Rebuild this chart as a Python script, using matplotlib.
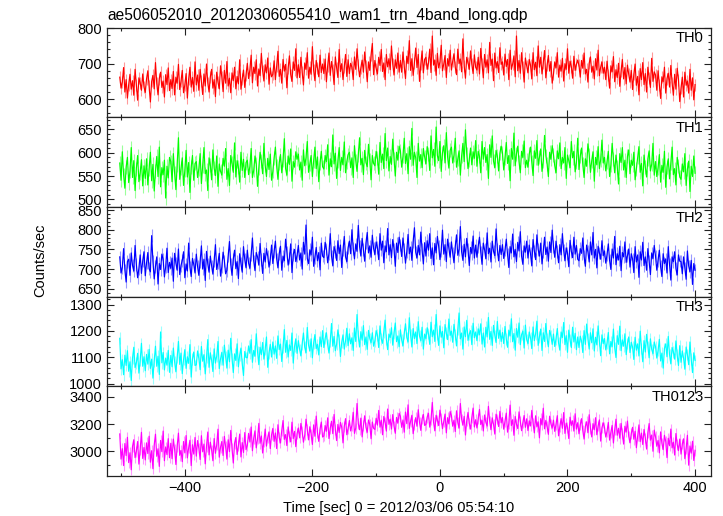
import matplotlib
matplotlib.use("Agg")
from matplotlib import pyplot as plt
from matplotlib.ticker import MultipleLocator
import numpy as np

plt.rcParams['font.family'] = ['Liberation Sans', 'DejaVu Sans']

# 2 s bins starting at t = -502 s
T_START = -502
BIN = 2

TH0 = [662, 631, 648, 689, 620, 655, 603, 641, 670, 628, 652, 611, 684, 639, 597, 660, 646, 625, 671, 634,
       619, 657, 680, 636, 592, 650, 667, 629, 703, 644, 612, 658, 676, 633, 651, 606, 669, 641, 688, 624,
       655, 630, 678, 612, 662, 645, 698, 627, 650, 681, 618, 640, 672, 603, 656, 690, 634, 661, 622, 705,
       640, 668, 625, 684, 650, 613, 671, 637, 699, 646, 620, 663, 684, 631, 655, 607, 676, 648, 629, 694,
       662, 621, 681, 645, 706, 637, 659, 618, 674, 652, 690, 629, 664, 643, 711, 628, 657, 682, 633, 669,
       701, 658, 683, 724, 646, 690, 672, 711, 637, 685, 666, 729, 680, 651, 697, 674, 716, 642, 688, 663,
       670, 708, 655, 693, 735, 664, 684, 645, 712, 679, 698, 632, 687, 722, 669, 650, 705, 681, 742, 660,
       697, 661, 718, 676, 640, 702, 684, 731, 659, 690, 670, 748, 681, 652, 709, 688, 663, 724, 675, 699,
       672, 713, 649, 694, 730, 667, 706, 682, 641, 719, 688, 661, 740, 678, 700, 655, 691, 726, 664, 711,
       672, 701, 690, 655, 719, 684, 742, 697, 663, 688, 710, 676, 733, 693, 649, 705, 681, 724, 757, 669,
       709, 686, 671, 718, 695, 740, 678, 702, 655, 726, 691, 714, 683, 750, 699, 668, 711, 687, 730, 676,
       709, 676, 733, 692, 658, 721, 700, 765, 681, 714, 667, 703, 744, 689, 726, 650, 698, 736, 674, 712,
       718, 684, 702, 741, 675, 778, 696, 710, 667, 729, 688, 705, 752, 680, 699, 723, 661, 714, 693, 738,
       682, 707, 728, 690, 669, 741, 700, 713, 677, 770, 694, 659, 718, 703, 684, 736, 698, 672, 725, 690,
       682, 718, 671, 743, 699, 660, 726, 690, 711, 674, 760, 695, 713, 652, 730, 688, 706, 675, 745, 698,
       705, 668, 727, 692, 712, 655, 738, 684, 699, 722, 663, 778, 680, 709, 673, 731, 690, 648, 716, 694,
       674, 712, 696, 657, 731, 683, 704, 666, 750, 690, 718, 671, 702, 737, 660, 695, 723, 679, 706, 645,
       670, 705, 688, 731, 662, 696, 679, 715, 651, 700, 684, 742, 673, 707, 692, 659, 721, 681, 698, 710,
       695, 662, 709, 687, 730, 671, 684, 648, 701, 719, 676, 693, 657, 714, 682, 738, 666, 690, 705, 673,
       690, 655, 707, 668, 631, 694, 677, 720, 649, 683, 661, 701, 636, 678, 712, 657, 689, 643, 696, 670,
       648, 681, 627, 670, 699, 639, 664, 612, 686, 655, 703, 641, 672, 620, 690, 659, 633, 715, 650, 677,
       668, 625, 680, 641, 602, 663, 649, 690, 617, 658, 673, 634, 695, 646, 611, 670, 628, 687, 655, 593,
       631, 662, 606, 676, 639, 651, 617, 684, 625, 660, 598, 641]

TH1 = [578, 541, 602, 553, 524, 569, 590, 536, 561, 611, 547, 583, 519, 566, 594, 538, 557, 585, 529, 572,
       545, 587, 531, 566, 601, 540, 575, 518, 560, 592, 549, 612, 527, 568, 553, 584, 503, 571, 546, 590,
       581, 538, 598, 556, 521, 574, 632, 543, 567, 589, 530, 562, 605, 548, 579, 515, 569, 594, 541, 577,
       581, 547, 566, 598, 534, 572, 611, 555, 563, 519, 589, 574, 542, 606, 567, 551, 593, 528, 576, 560,
       552, 588, 571, 609, 543, 566, 530, 594, 577, 558, 621, 548, 583, 569, 537, 601, 562, 586, 547, 579,
       584, 553, 571, 609, 547, 562, 593, 576, 528, 567, 601, 582, 555, 620, 573, 549, 588, 564, 597, 541,
       560, 589, 612, 571, 543, 578, 596, 557, 584, 630, 566, 552, 593, 575, 608, 539, 581, 569, 602, 586,
       597, 563, 580, 541, 606, 572, 589, 624, 558, 576, 594, 549, 583, 612, 566, 591, 538, 578, 603, 570,
       565, 594, 581, 617, 552, 587, 570, 638, 576, 599, 545, 583, 611, 562, 590, 574, 623, 557, 581, 596,
       601, 568, 589, 547, 615, 583, 560, 596, 632, 574, 588, 553, 605, 579, 570, 618, 585, 542, 594, 577,
       572, 603, 588, 554, 622, 579, 597, 566, 641, 583, 610, 561, 592, 575, 629, 587, 550, 601, 584, 614,
       604, 569, 592, 631, 577, 598, 555, 613, 586, 652, 573, 601, 589, 547, 620, 582, 596, 568, 609, 591,
       576, 613, 598, 562, 636, 589, 607, 571, 655, 594, 583, 624, 560, 600, 615, 578, 643, 591, 567, 605,
       612, 578, 595, 631, 569, 587, 604, 552, 593, 620, 581, 649, 598, 566, 585, 610, 574, 602, 588, 626,
       571, 603, 592, 557, 624, 586, 611, 579, 596, 545, 617, 590, 636, 582, 568, 605, 593, 561, 599, 614,
       600, 563, 589, 622, 577, 594, 540, 609, 586, 642, 572, 598, 614, 581, 557, 603, 590, 625, 568, 584,
       569, 597, 612, 580, 551, 604, 588, 626, 573, 591, 608, 560, 583, 637, 594, 576, 549, 601, 586, 615,
       596, 572, 557, 604, 587, 621, 566, 590, 578, 611, 545, 595, 583, 568, 624, 589, 603, 559, 580, 631,
       564, 593, 610, 575, 547, 587, 571, 619, 596, 558, 583, 602, 539, 590, 574, 613, 566, 585, 627, 578,
       590, 561, 581, 603, 549, 574, 620, 586, 557, 595, 570, 533, 598, 579, 611, 563, 584, 547, 592, 606,
       555, 584, 573, 601, 542, 566, 590, 613, 558, 577, 529, 595, 569, 548, 587, 604, 561, 575, 620, 552,
       581, 549, 568, 596, 537, 573, 558, 603, 526, 570, 587, 544, 579, 612, 553, 566, 531, 590, 572, 548,
       543, 576, 559, 598, 530, 565, 582, 517, 571, 549, 593, 556]

TH2 = [731, 690, 704, 752, 698, 667, 719, 725, 684, 741, 709, 695, 760, 712, 678, 702, 736, 689, 721, 744,
       683, 716, 742, 701, 693, 785, 720, 675, 707, 731, 662, 714, 699, 738, 725, 680, 706, 753, 691, 717,
       702, 728, 669, 740, 715, 697, 751, 686, 709, 722, 744, 678, 713, 695, 766, 705, 681, 727, 712, 690,
       738, 706, 684, 719, 759, 700, 725, 671, 745, 713, 692, 733, 708, 687, 721, 762, 699, 716, 740, 682,
       705, 743, 721, 688, 697, 735, 770, 712, 684, 726, 748, 701, 719, 676, 739, 714, 692, 757, 724, 703,
       748, 715, 702, 737, 779, 721, 696, 742, 731, 710, 765, 724, 689, 740, 718, 752, 733, 705, 726, 761,
       714, 745, 771, 726, 703, 739, 758, 697, 733, 721, 776, 742, 710, 728, 764, 691, 737, 750, 719, 734,
       760, 723, 741, 700, 768, 738, 812, 727, 714, 749, 736, 781, 707, 730, 755, 721, 742, 698, 766, 733,
       729, 768, 751, 716, 740, 790, 733, 708, 757, 745, 722, 772, 739, 761, 704, 748, 783, 731, 719, 754,
       771, 739, 800, 752, 726, 764, 745, 811, 757, 733, 778, 749, 720, 766, 793, 741, 759, 730, 786, 752,
       737, 769, 755, 724, 790, 748, 771, 716, 759, 744, 803, 736, 762, 729, 775, 751, 707, 766, 742, 781,
       761, 732, 779, 750, 715, 744, 788, 739, 756, 722, 770, 805, 743, 728, 760, 736, 794, 749, 713, 767,
       733, 772, 748, 790, 727, 754, 711, 765, 741, 783, 758, 724, 747, 799, 738, 762, 719, 776, 752, 730,
       769, 741, 716, 757, 787, 735, 750, 808, 744, 722, 763, 731, 778, 749, 709, 755, 740, 784, 728, 761,
       730, 758, 781, 743, 712, 766, 749, 726, 792, 739, 753, 718, 771, 745, 734, 802, 751, 721, 760, 737,
       762, 727, 748, 776, 738, 704, 757, 741, 789, 731, 750, 719, 768, 746, 795, 733, 712, 759, 743, 771,
       728, 761, 739, 708, 775, 746, 724, 787, 750, 733, 766, 713, 745, 781, 737, 756, 720, 769, 742, 799,
       757, 730, 771, 744, 716, 762, 736, 790, 748, 721, 754, 740, 706, 773, 745, 729, 781, 738, 760, 725,
       721, 752, 740, 779, 732, 707, 761, 744, 718, 769, 736, 793, 728, 750, 703, 758, 741, 725, 772, 734,
       746, 715, 737, 764, 722, 699, 751, 728, 783, 711, 739, 723, 758, 696, 742, 731, 769, 717, 734, 751,
       705, 739, 726, 691, 757, 718, 736, 679, 744, 723, 768, 709, 731, 697, 752, 720, 686, 741, 727, 760,
       733, 697, 722, 748, 706, 681, 739, 714, 726, 690, 757, 711, 672, 731, 719, 744, 701, 685, 736, 720,
       719, 688, 731, 702, 674, 746, 708, 693, 722, 661, 714, 697]

TH3 = [1172, 1056, 1091, 1034, 1108, 1069, 1125, 1047, 1083, 1012, 1097, 1138, 1061, 1079, 1115, 1040, 1088, 1153, 1066, 1102,
       1049, 1111, 1074, 1130, 1058, 1093, 1021, 1087, 1142, 1066, 1104, 1035, 1196, 1079, 1118, 1052, 1097, 1070, 1126, 1043,
       1107, 1064, 1135, 1082, 1045, 1099, 1160, 1073, 1116, 1038, 1091, 1129, 1058, 1102, 1077, 1148, 1025, 1094, 1120, 1069,
       1071, 1124, 1096, 1053, 1141, 1085, 1110, 1037, 1099, 1167, 1062, 1117, 1089, 1046, 1132, 1078, 1105, 1160, 1057, 1094,
       1119, 1070, 1146, 1101, 1059, 1127, 1083, 1172, 1096, 1042, 1113, 1088, 1151, 1064, 1108, 1135, 1076, 1031, 1122, 1099,
       1098, 1143, 1115, 1167, 1081, 1126, 1104, 1189, 1121, 1072, 1138, 1110, 1156, 1093, 1130, 1177, 1062, 1117, 1149, 1101,
       1158, 1112, 1143, 1096, 1181, 1129, 1150, 1084, 1138, 1205, 1119, 1164, 1101, 1147, 1126, 1192, 1078, 1141, 1170, 1115,
       1163, 1130, 1105, 1151, 1192, 1138, 1117, 1213, 1146, 1124, 1170, 1098, 1155, 1186, 1133, 1149, 1109, 1177, 1140, 1201,
       1137, 1172, 1193, 1148, 1116, 1161, 1228, 1142, 1179, 1125, 1150, 1204, 1168, 1103, 1157, 1185, 1131, 1162, 1210, 1144,
       1189, 1151, 1174, 1126, 1211, 1160, 1262, 1182, 1139, 1197, 1165, 1220, 1148, 1177, 1130, 1202, 1171, 1155, 1193, 1142,
       1162, 1201, 1184, 1137, 1219, 1170, 1153, 1196, 1241, 1168, 1129, 1188, 1175, 1212, 1146, 1193, 1230, 1159, 1181, 1140,
       1204, 1166, 1143, 1190, 1227, 1175, 1158, 1250, 1184, 1139, 1209, 1171, 1196, 1152, 1235, 1180, 1163, 1214, 1131, 1188,
       1171, 1212, 1190, 1149, 1233, 1178, 1203, 1160, 1262, 1187, 1145, 1219, 1176, 1198, 1136, 1224, 1191, 1167, 1245, 1183,
       1199, 1157, 1225, 1186, 1143, 1207, 1268, 1170, 1192, 1131, 1215, 1178, 1240, 1164, 1188, 1201, 1148, 1229, 1174, 1196,
       1163, 1208, 1185, 1227, 1150, 1192, 1139, 1214, 1177, 1251, 1168, 1198, 1145, 1221, 1183, 1156, 1236, 1172, 1203, 1160,
       1194, 1152, 1217, 1170, 1138, 1203, 1181, 1246, 1159, 1190, 1127, 1209, 1176, 1230, 1148, 1186, 1199, 1135, 1222, 1167,
       1152, 1196, 1174, 1133, 1215, 1163, 1189, 1237, 1145, 1178, 1207, 1126, 1193, 1160, 1228, 1171, 1140, 1202, 1183, 1149,
       1188, 1141, 1170, 1209, 1154, 1127, 1196, 1175, 1232, 1148, 1182, 1119, 1203, 1166, 1137, 1214, 1158, 1191, 1129, 1177,
       1137, 1180, 1162, 1118, 1201, 1149, 1226, 1170, 1131, 1193, 1155, 1208, 1124, 1176, 1147, 1219, 1163, 1106, 1185, 1152,
       1171, 1128, 1155, 1194, 1113, 1160, 1140, 1207, 1136, 1099, 1182, 1149, 1218, 1125, 1166, 1142, 1189, 1110, 1153, 1177,
       1118, 1157, 1139, 1092, 1176, 1127, 1151, 1105, 1199, 1134, 1083, 1163, 1120, 1187, 1141, 1098, 1170, 1130, 1114, 1158,
       1140, 1097, 1125, 1168, 1086, 1116, 1059, 1133, 1151, 1102, 1179, 1110, 1075, 1137, 1121, 1093, 1162, 1108, 1069, 1144,
       1081, 1124, 1097, 1055, 1139, 1110, 1072, 1158, 1093, 1042, 1117, 1088]

TH0123 = [3127, 2941, 3018, 2893, 3056, 2967, 3102, 2915, 2988, 2862, 3035, 3084, 2952, 2998, 3071, 2904, 3012, 3139, 2946, 3027,
          2935, 3061, 2982, 3110, 2918, 3003, 2870, 3044, 3125, 2962, 3017, 2887, 3079, 2996, 3148, 2929, 3031, 2974, 3092, 2951,
          3058, 2944, 3089, 3012, 2901, 3036, 3133, 2969, 3005, 2922, 3071, 2987, 3115, 2950, 3024, 3080, 2893, 3047, 2978, 3101,
          2963, 3078, 3021, 2938, 3114, 2995, 3052, 2906, 3035, 3141, 2972, 3066, 3008, 2929, 3093, 2984, 3047, 3162, 2955, 3029,
          3071, 2968, 3109, 3032, 2941, 3084, 2996, 3153, 3018, 2912, 3058, 3101, 2975, 3040, 3126, 2957, 3063, 2990, 3137, 3011,
          3042, 3131, 3067, 3178, 3003, 3096, 3150, 3024, 3089, 3205, 3058, 3112, 2986, 3074, 3163, 3037, 3101, 3142, 3019, 3120,
          3168, 3072, 3134, 3019, 3195, 3101, 3060, 3153, 3226, 3087, 3122, 3041, 3179, 3108, 3068, 3214, 3093, 3146, 3033, 3129,
          3171, 3098, 3205, 3142, 3066, 3119, 3236, 3157, 3083, 3180, 3127, 3049, 3194, 3110, 3259, 3136, 3072, 3163, 3215, 3104,
          3112, 3189, 3147, 3246, 3093, 3168, 3221, 3129, 3271, 3160, 3078, 3197, 3138, 3212, 3176, 3061, 3183, 3240, 3121, 3166,
          3226, 3149, 3192, 3287, 3131, 3170, 3352, 3203, 3158, 3244, 3105, 3188, 3261, 3176, 3139, 3230, 3197, 3092, 3215, 3168,
          3160, 3243, 3192, 3301, 3177, 3229, 3121, 3256, 3214, 3148, 3311, 3198, 3236, 3163, 3270, 3185, 3132, 3249, 3207, 3279,
          3258, 3176, 3230, 3140, 3289, 3203, 3342, 3168, 3221, 3265, 3129, 3197, 3247, 3184, 3306, 3212, 3153, 3238, 3271, 3190,
          3196, 3251, 3280, 3177, 3232, 3360, 3214, 3150, 3265, 3229, 3189, 3303, 3241, 3166, 3218, 3274, 3135, 3247, 3201, 3292,
          3263, 3184, 3229, 3145, 3298, 3211, 3170, 3352, 3236, 3192, 3257, 3119, 3224, 3286, 3205, 3163, 3249, 3318, 3178, 3232,
          3171, 3240, 3308, 3196, 3228, 3149, 3267, 3213, 3185, 3331, 3222, 3158, 3246, 3198, 3126, 3273, 3237, 3182, 3294, 3209,
          3248, 3162, 3219, 3281, 3140, 3206, 3340, 3189, 3232, 3117, 3256, 3198, 3167, 3290, 3223, 3151, 3210, 3263, 3176, 3239,
          3152, 3224, 3186, 3301, 3208, 3135, 3261, 3179, 3216, 3098, 3240, 3193, 3317, 3165, 3227, 3182, 3124, 3258, 3201, 3170,
          3229, 3146, 3198, 3262, 3113, 3183, 3240, 3169, 3285, 3131, 3207, 3176, 3093, 3251, 3190, 3224, 3148, 3276, 3163, 3210,
          3128, 3194, 3240, 3151, 3089, 3182, 3217, 3136, 3269, 3170, 3105, 3203, 3158, 3247, 3121, 3186, 3231, 3074, 3173, 3209,
          3176, 3104, 3147, 3212, 3081, 3139, 3190, 3060, 3158, 3236, 3117, 3169, 3095, 3205, 3128, 3052, 3184, 3141, 3222, 3110,
          3061, 3129, 3176, 3088, 3147, 3025, 3112, 3194, 3070, 3133, 3049, 3160, 3097, 3015, 3138, 3204, 3081, 3119, 2999, 3155,
          3108, 3036, 3079, 2987, 3142, 3058, 3011, 3117, 3073, 2952, 3095, 3040, 3163, 3024, 3066, 2971, 3130, 3049, 3004, 3089,
          2978, 3052, 3091, 2944, 3020, 3117, 2896, 3038, 2985, 3073, 2931, 3006]

# typical 1-sigma error per band (counts/sec)
ERR = [17, 15, 16, 22, 40]
NAMES = ['TH0', 'TH1', 'TH2', 'TH3', 'TH0123']

colors = ['#ff0000', '#00ff00', '#0000ff', '#00ffff', '#ff00ff']
light = ['#ff9a9a', '#9aff9a', '#9a9aff', '#9affff', '#ff9aff']
ylims = [(549, 802), (484, 676), (630, 858), (990, 1330), (2816, 3479)]
ymajor = [100, 50, 50, 100, 200]
yminor = [20, 10, 10, 20, 100]

fig, axes = plt.subplots(5, 1, sharex=True, figsize=(7.23, 5.16), dpi=100)
fig.subplots_adjust(left=0.148, right=0.9834, top=0.9467, bottom=0.0775, hspace=0)

series = [TH0, TH1, TH2, TH3, TH0123]
for i, ax in enumerate(axes):
    y = np.array(series[i])
    t = T_START + BIN * np.arange(len(y))
    ax.errorbar(t, y, yerr=ERR[i], fmt='none', ecolor=light[i], elinewidth=0.8)
    ax.plot(t, y, color=colors[i], lw=0.85)

    ax.set_ylim(*ylims[i])
    ax.yaxis.set_major_locator(MultipleLocator(ymajor[i]))
    ax.yaxis.set_minor_locator(MultipleLocator(yminor[i]))
    ax.xaxis.set_major_locator(MultipleLocator(200))
    ax.xaxis.set_minor_locator(MultipleLocator(100))
    ax.tick_params(which='both', direction='in', top=True, right=True,
                   labelsize=10.5, color='#222222')
    ax.tick_params(which='major', length=5, width=0.8)
    ax.tick_params(which='minor', length=2.5, width=0.8)
    for s in ax.spines.values():
        s.set_linewidth(0.9)
        s.set_color('#222222')
    ax.text(0.988, 0.88, NAMES[i], transform=ax.transAxes, ha='right',
            va='center', fontsize=10.5)

axes[-1].set_xlim(-522, 425)

fig.text(0.148, 0.962, 'ae506052010_20120306055410_wam1_trn_4band_long.qdp',
         fontsize=11.2, va='baseline', ha='left')
fig.text(0.056, 0.496, 'Counts/sec', rotation=90, va='center', ha='center',
         fontsize=10.5)
fig.text(0.551, 0.0155, 'Time [sec] 0 = 2012/03/06 05:54:10', ha='center',
         va='center', fontsize=10.5)

fig.savefig('out.png', dpi=100)
